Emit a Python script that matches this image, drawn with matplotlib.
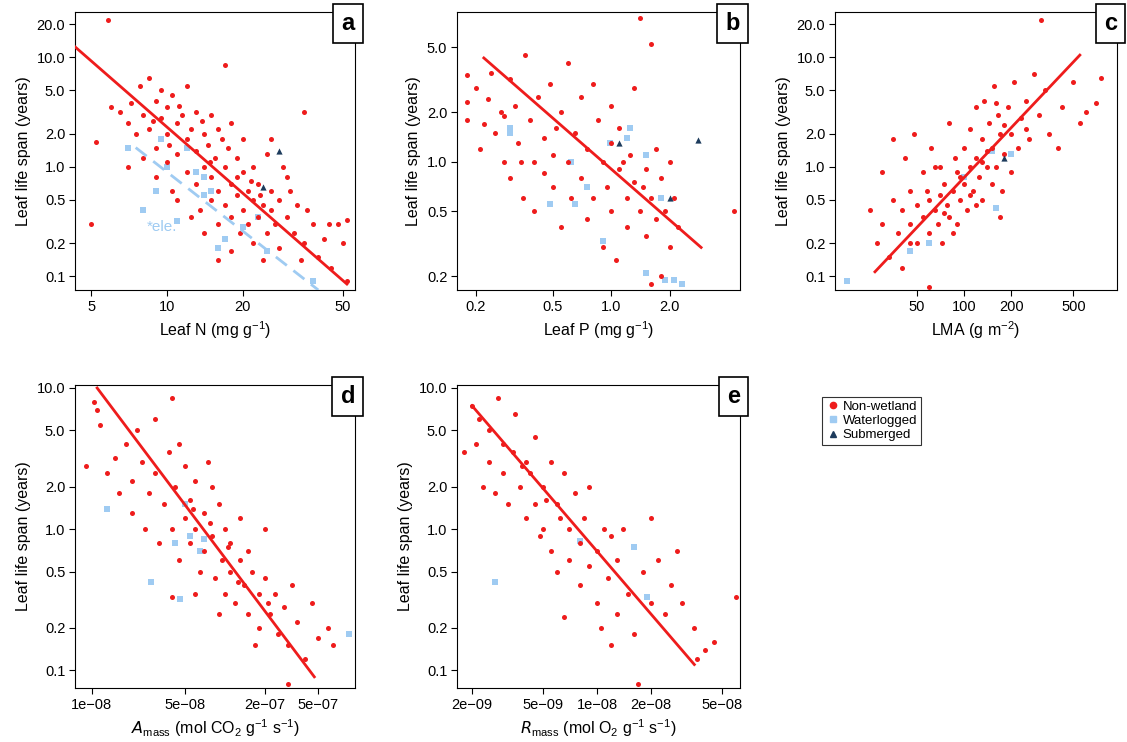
import numpy as np
import matplotlib
matplotlib.use("Agg")
import matplotlib.pyplot as plt
from matplotlib.lines import Line2D

plt.rcParams['font.family'] = ['Liberation Sans', 'DejaVu Sans']
plt.rcParams['mathtext.default'] = 'regular'

RED = '#ee1c1c'
BLUE = '#9fcbf2'
NAVY = '#1d3b5c'

# ---- panel a: leaf N ----
a_red = [(5,0.3),(5.2,1.7),(5.8,22),(6,3.5),(6.5,3.2),(7,2.5),(7,1.0),(7.5,2.0),(7.8,5.5),(8,3.0),(8,1.2),
         (8.5,6.5),(8.5,2.2),(9,4.0),(9,1.5),(9,0.8),(9.5,2.8),(9.5,5.0),(10,3.5),(10,2.0),(10,1.1),(10.5,0.6),
         (10.5,4.5),(11,2.5),(11,1.3),(11,0.5),(11.5,3.0),(12,1.8),(12,0.9),(12,5.5),(12.5,2.2),(13,1.4),(13,0.7),
         (13,3.2),(13.5,0.4),(14,2.0),(14,1.0),(14,0.25),(14.5,1.6),(15,0.8),(15,3.0),(15,0.5),(15.5,1.2),(16,0.6),
         (16,2.2),(16,0.3),(17,8.5),(17,1.0),(17,0.45),(17.5,1.5),(18,0.7),(18,0.35),(18,2.5),(19,0.55),(19,1.2),
         (19.5,0.25),(20,0.9),(20,0.4),(20,1.8),(21,0.6),(21,0.3),(22,0.5),(22,1.0),(22,0.2),(23,0.7),(23,0.35),
         (24,0.45),(25,1.3),(25,0.25),(26,0.6),(27,0.3),(28,0.5),(28,0.18),(30,0.35),(30,0.8),(32,0.25),(33,0.45),
         (35,3.2),(35,0.2),(38,0.3),(40,0.15),(42,0.22),(45,0.12),(48,0.3),(50,0.2),(52,0.33),(52,0.09),(34,0.14),
         (24,0.14),(26,1.8),(29,1.0),(31,0.6),(36,0.4),(44,0.3),(16,0.14),(18,0.17),(12.5,0.35),(7.2,3.8),(8.8,2.6),
         (11.2,3.6),(13.8,2.6),(16.5,1.8),(19,0.8),(21.5,0.75),(23.5,0.55),(26,0.4),(14.8,1.1),(10.2,1.6)]
a_blue = [(7,1.5),(8,0.4),(9,0.6),(10,1.0),(11,0.32),(12,1.5),(13,0.9),(14,0.55),(15,0.6),(16,0.18),(17,0.22),
          (20,0.28),(23,0.35),(25,0.17),(38,0.09),(9.5,1.8),(14,0.8)]
a_navy = [(28,1.4),(24,0.65)]

# ---- panel b: leaf P ----
b_red = [(0.18,3.4),(0.18,2.3),(0.18,1.8),(0.2,2.8),(0.21,1.2),(0.22,1.7),(0.23,2.4),(0.24,3.5),(0.25,1.5),
         (0.27,2.0),(0.28,1.0),(0.3,0.8),(0.3,3.2),(0.32,2.2),(0.33,1.3),(0.35,0.6),(0.36,4.5),(0.38,1.8),(0.4,1.0),
         (0.4,0.5),(0.42,2.5),(0.45,1.4),(0.45,0.85),(0.48,3.0),(0.5,1.1),(0.5,0.7),(0.55,2.0),(0.55,0.4),(0.6,1.0),
         (0.6,4.0),(0.62,0.6),(0.65,1.5),(0.7,0.8),(0.7,2.5),(0.75,1.2),(0.75,0.45),(0.8,0.6),(0.8,3.0),(0.85,1.8),
         (0.9,1.0),(0.9,0.3),(0.95,0.7),(1.0,1.3),(1.0,0.5),(1.0,2.2),(1.05,0.25),(1.1,0.9),(1.1,1.6),(1.2,0.6),
         (1.2,0.4),(1.25,1.1),(1.3,0.75),(1.3,2.8),(1.4,0.5),(1.4,7.5),(1.5,0.9),(1.5,0.35),(1.6,5.2),(1.6,0.6),
         (1.7,1.2),(1.7,0.45),(1.8,0.8),(1.8,0.2),(1.9,0.5),(2.0,1.0),(2.0,0.3),(2.1,0.6),(2.2,0.4),(1.6,0.18),
         (4.3,0.5),(0.28,1.9),(0.34,1.0),(0.52,1.6),(1.15,1.0),(1.45,0.7)]
b_blue = [(0.3,1.5),(0.3,1.6),(0.48,0.55),(0.62,1.0),(0.65,0.55),(0.75,0.7),(0.9,0.33),(1.2,1.4),(1.25,1.6),
          (1.5,1.1),(1.5,0.21),(1.8,0.6),(1.9,0.19),(2.1,0.19),(2.3,0.18),(0.98,1.3)]
b_navy = [(1.1,1.3),(2.0,0.6),(2.8,1.35)]

# ---- panel c: LMA ----
c_red = [(25,0.4),(28,0.2),(30,0.9),(30,0.3),(33,0.15),(35,0.5),(35,1.8),(38,0.25),(40,0.4),(40,0.12),(42,1.2),
         (45,0.3),(45,0.6),(48,2.0),(50,0.2),(50,0.45),(55,0.35),(55,0.9),(58,0.6),(60,0.08),(60,0.25),(62,1.5),
         (65,0.4),(68,0.3),(70,0.55),(70,1.0),(72,0.2),(75,0.7),(78,0.45),(80,0.35),(80,2.5),(85,0.6),(88,1.2),
         (90,0.9),(90,0.3),(95,0.5),(100,1.5),(100,0.7),(105,0.4),(110,1.0),(110,2.2),(115,0.6),(120,3.5),(120,1.2),
         (125,0.8),(130,1.8),(130,0.5),(135,4.0),(140,1.0),(145,2.5),(150,1.5),(150,0.7),(155,5.5),(160,1.0),
         (165,3.0),(170,2.0),(175,0.6),(180,1.3),(190,3.5),(200,2.0),(200,0.9),(210,6.0),(220,1.5),(230,2.8),
         (250,4.0),(260,1.8),(280,7.0),(300,3.0),(310,22),(330,5.0),(350,2.0),(400,1.5),(420,3.5),(500,6.0),
         (550,2.5),(600,3.2),(700,3.8),(750,6.5),(65,1.0),(85,0.25),(170,0.35),(45,0.2),(120,0.45),(60,0.5),
         (75,0.38),(95,0.8),(140,1.4),(180,2.4),(110,0.55),(250,2.2),(160,3.8),(130,1.1)]
c_blue = [(18,0.09),(45,0.17),(60,0.2),(100,0.8),(160,0.42),(150,1.4),(200,1.3)]
c_navy = [(180,1.2)]

# ---- panel d: Amass ----
d_red = [(9e-9,2.8),(1.05e-8,8),(1.1e-8,7),(1.15e-8,5.5),(1.3e-8,2.5),(1.5e-8,3.2),(1.6e-8,1.8),(1.8e-8,4.0),
         (2e-8,2.2),(2e-8,1.3),(2.2e-8,5.0),(2.4e-8,3.0),(2.5e-8,1.0),(2.7e-8,1.8),(3e-8,6.0),(3e-8,2.5),(3.2e-8,0.8),
         (3.5e-8,1.5),(3.8e-8,3.5),(4e-8,8.5),(4e-8,1.0),(4.2e-8,2.0),(4.5e-8,0.6),(4.5e-8,4.0),(5e-8,1.2),(5e-8,2.8),
         (5.5e-8,0.8),(5.5e-8,1.6),(6e-8,1.0),(6e-8,2.2),(6.5e-8,0.5),(7e-8,1.3),(7e-8,0.7),(7.5e-8,3.0),(8e-8,0.9),
         (8.5e-8,0.45),(9e-8,1.5),(9.5e-8,0.6),(1e-7,0.35),(1e-7,1.0),(1.1e-7,0.5),(1.1e-7,0.8),(1.2e-7,0.3),
         (1.3e-7,0.6),(1.3e-7,1.2),(1.4e-7,0.4),(1.5e-7,0.25),(1.5e-7,0.7),(1.6e-7,0.5),(1.8e-7,0.35),(1.8e-7,0.2),
         (2e-7,0.45),(2.2e-7,0.25),(2.4e-7,0.35),(2.5e-7,0.18),(2.8e-7,0.28),(3e-7,0.15),(3.2e-7,0.4),(3.5e-7,0.22),
         (4e-7,0.12),(4.5e-7,0.3),(5e-7,0.17),(6e-7,0.2),(6.5e-7,0.15),(3e-7,0.08),(2e-7,1.0),(8e-8,2.0),(6e-8,0.35),
         (4e-8,0.33),(1.7e-7,0.15),(9e-8,0.25),(5.8e-8,1.4),(7.8e-8,1.1),(1.05e-7,0.75),(1.25e-7,0.42),(2.1e-7,0.3)]
d_blue = [(1.3e-8,1.4),(2.8e-8,0.42),(4.2e-8,0.8),(4.6e-8,0.32),(5e-8,1.5),(5.5e-8,0.9),(6.5e-8,0.7),
          (7e-8,0.85),(8.5e-7,0.18)]

# ---- panel e: Rmass ----
e_red = [(1.8e-9,3.5),(2e-9,7.5),(2.1e-9,4.0),(2.2e-9,6.0),(2.3e-9,2.0),(2.5e-9,3.0),(2.5e-9,5.0),(2.7e-9,1.8),
         (2.8e-9,8.5),(3e-9,2.5),(3e-9,4.0),(3.2e-9,1.5),(3.4e-9,3.5),(3.5e-9,6.5),(3.7e-9,2.0),(4e-9,1.2),(4e-9,3.0),
         (4.2e-9,2.5),(4.5e-9,1.5),(4.5e-9,4.5),(4.8e-9,0.9),(5e-9,2.0),(5e-9,1.0),(5.5e-9,3.0),(5.5e-9,0.7),
         (6e-9,1.5),(6e-9,0.5),(6.5e-9,2.5),(6.5e-9,0.24),(7e-9,1.0),(7e-9,0.6),(7.5e-9,1.8),(8e-9,0.8),(8e-9,0.4),
         (8.5e-9,1.2),(9e-9,0.55),(9e-9,2.0),(1e-8,0.7),(1e-8,0.3),(1.05e-8,0.2),(1.1e-8,1.0),(1.15e-8,0.45),
         (1.2e-8,0.15),(1.3e-8,0.6),(1.3e-8,0.25),(1.4e-8,1.0),(1.5e-8,0.35),(1.6e-8,0.18),(1.7e-8,0.08),(1.8e-8,0.5),
         (2e-8,0.3),(2.2e-8,0.6),(2.4e-8,0.25),(2.6e-8,0.4),(2.8e-8,0.7),(3e-8,0.3),(3.5e-8,0.2),(3.6e-8,0.12),
         (4e-8,0.14),(4.5e-8,0.16),(6e-8,0.33),(1.2e-8,0.9),(2e-8,1.2),(3.8e-9,2.8),(5.2e-9,1.6),(6.2e-9,1.2)]
e_blue = [(2.7e-9,0.42),(8e-9,0.82),(1.6e-8,0.75),(1.9e-8,0.33)]

# fitted lines (endpoints)
a_fit = [(4.3, 12.5), (52, 0.085)]
a_fit_ele = [(7.5, 1.5), (40, 0.075)]
b_fit = [(0.22, 4.3), (2.9, 0.3)]
c_fit = [(27, 0.11), (550, 10.5)]
d_fit = [(1.1e-8, 10), (4.7e-7, 0.09)]
e_fit = [(2e-9, 7.5), (3.5e-8, 0.11)]

Y_TICKS = [0.1, 0.2, 0.5, 1.0, 2.0, 5.0, 10.0, 20.0]

W, H = 1127, 742
fig = plt.figure(figsize=(W / 100, H / 100), dpi=100)


def make_ax(x0, top, x1, bottom):
    return fig.add_axes([x0 / W, 1 - bottom / H, (x1 - x0) / W, (bottom - top) / H])


def scatter(ax, pts, kind):
    if not pts:
        return
    x, y = zip(*pts)
    if kind == 'red':
        ax.scatter(x, y, s=13, c=RED, marker='o', linewidths=0, zorder=3)
    elif kind == 'blue':
        ax.scatter(x, y, s=14, c=BLUE, marker='s', linewidths=0, zorder=2)
    else:
        ax.scatter(x, y, s=20, c=NAVY, marker='^', linewidths=0, zorder=4)


def style(ax, letter, xlim, ylim, xticks, xlabels, yticks, xlabel):
    ax.set_xscale('log')
    ax.set_yscale('log')
    ax.set_xlim(*xlim)
    ax.set_ylim(*ylim)
    ax.set_xticks(xticks)
    ax.set_xticklabels(xlabels)
    ax.set_yticks(yticks)
    ax.set_yticklabels([f'{t:.1f}' for t in yticks])
    ax.minorticks_off()
    ax.tick_params(labelsize=10.5, length=4, pad=3)
    ax.set_xlabel(xlabel, fontsize=11.5, labelpad=4)
    ax.set_ylabel('Leaf life span (years)', fontsize=11.5)
    ax.text(1, 1, letter, transform=ax.transAxes, ha='right', va='top', fontsize=17, fontweight='bold',
            bbox=dict(boxstyle='square,pad=0.35', fc='white', ec='black', lw=1.2), zorder=10)


def fit(ax, pts, **kw):
    x, y = zip(*pts)
    ax.plot(x, y, **kw)


ax = make_ax(75, 12, 355, 290)
scatter(ax, a_blue, 'blue'); scatter(ax, a_red, 'red'); scatter(ax, a_navy, 'navy')
fit(ax, a_fit_ele, color=BLUE, lw=2, ls=(0, (5, 3)), zorder=3)
fit(ax, a_fit, color=RED, lw=2, zorder=5)
ax.text(8.3, 0.26, '*ele.', color=BLUE, fontsize=11)
style(ax, 'a', (4.3, 56), (0.075, 26), [5, 10, 20, 50], ['5', '10', '20', '50'], Y_TICKS,
      'Leaf N (mg g$^{-1}$)')

ax = make_ax(457, 12, 740, 290)
scatter(ax, b_blue, 'blue'); scatter(ax, b_red, 'red'); scatter(ax, b_navy, 'navy')
fit(ax, b_fit, color=RED, lw=2, zorder=5)
style(ax, 'b', (0.16, 4.6), (0.165, 8.2), [0.2, 0.5, 1.0, 2.0], ['0.2', '0.5', '1.0', '2.0'],
      [0.2, 0.5, 1.0, 2.0, 5.0], 'Leaf P (mg g$^{-1}$)')

ax = make_ax(835, 12, 1117, 290)
scatter(ax, c_blue, 'blue'); scatter(ax, c_red, 'red'); scatter(ax, c_navy, 'navy')
fit(ax, c_fit, color=RED, lw=2, zorder=5)
style(ax, 'c', (15, 950), (0.075, 26), [50, 100, 200, 500], ['50', '100', '200', '500'], Y_TICKS,
      'LMA (g m$^{-2}$)')

ax = make_ax(75, 385, 355, 688)
scatter(ax, d_blue, 'blue'); scatter(ax, d_red, 'red')
fit(ax, d_fit, color=RED, lw=2, zorder=5)
style(ax, 'd', (7.5e-9, 9.5e-7), (0.075, 10.5), [1e-8, 5e-8, 2e-7, 5e-7],
      ['1e\u221208', '5e\u221208', '2e\u221207', '5e\u221207'], Y_TICKS[:7],
      '$\\mathit{A}_{mass}$ (mol CO$_2$ g$^{-1}$ s$^{-1}$)')

ax = make_ax(457, 385, 740, 688)
scatter(ax, e_blue, 'blue'); scatter(ax, e_red, 'red')
fit(ax, e_fit, color=RED, lw=2, zorder=5)
style(ax, 'e', (1.65e-9, 6.3e-8), (0.075, 10.5), [2e-9, 5e-9, 1e-8, 2e-8, 5e-8],
      ['2e\u221209', '5e\u221209', '1e\u221208', '2e\u221208', '5e\u221208'], Y_TICKS[:7],
      '$\\mathit{R}_{mass}$ (mol O$_2$ g$^{-1}$ s$^{-1}$)')

handles = [Line2D([], [], ls='', marker='o', ms=4.5, color=RED),
           Line2D([], [], ls='', marker='s', ms=4.5, color=BLUE),
           Line2D([], [], ls='', marker='^', ms=5, color=NAVY)]
leg = fig.legend(handles, ['Non-wetland', 'Waterlogged', 'Submerged'], loc='upper left',
                 bbox_to_anchor=(815 / W, 1 - 390 / H), fontsize=9.5, frameon=True, fancybox=False,
                 edgecolor='black', handletextpad=0.1, borderpad=0.3, labelspacing=0.15, handlelength=1.2)
leg.get_frame().set_linewidth(0.8)

fig.savefig('out.png', dpi=100)
